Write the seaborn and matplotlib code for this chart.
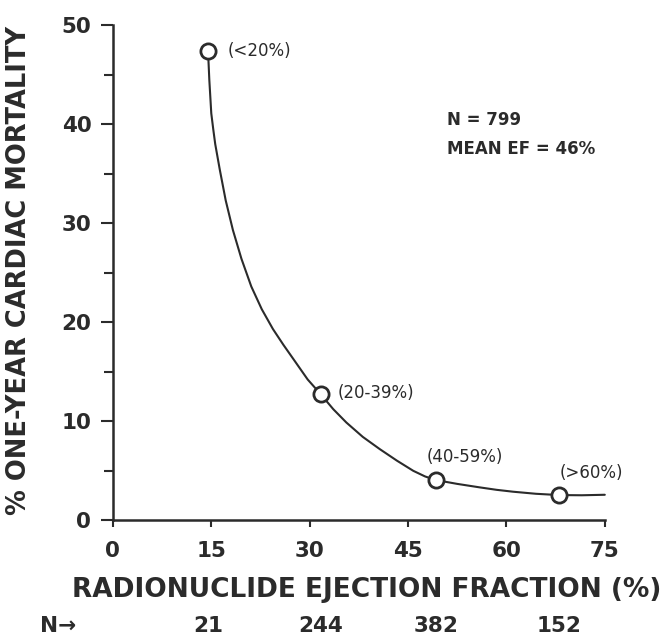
import numpy as np
import pandas as pd
import matplotlib
matplotlib.use("Agg")
import matplotlib.pyplot as plt
import seaborn as sns

# measured groups (ejection fraction, one-year cardiac mortality)
point_ef = [14.5, 31.7, 49.3, 68.0]
point_mort = [47.4, 12.7, 4.0, 2.5]
point_labels = ["(<20%)", "(20-39%)", "(40-59%)", "(>60%)"]

# fitted curve
curve_ef = [14.5, 14.6, 14.7, 14.85, 15.0, 15.3, 15.6, 16.3, 17.2, 18.3, 19.6,
            21.1, 22.7, 24.4, 26.0, 27.8, 29.7, 31.7, 33.6, 35.6, 38.1, 40.7,
            43.3, 45.8, 47.6, 49.3, 52.5, 55.9, 58.5, 61.0, 64.5, 68.0, 71.5,
            75.0]
curve_mort = [47.4, 46.0, 44.5, 42.8, 41.1, 39.5, 38.0, 35.4, 32.3, 29.3, 26.4,
              23.6, 21.3, 19.3, 17.7, 16.0, 14.2, 12.7, 11.2, 9.85, 8.4, 7.16,
              6.0, 4.97, 4.4, 4.03, 3.65, 3.3, 3.05, 2.86, 2.65, 2.52, 2.5,
              2.55]

# patients per group, printed under the x axis below each group
n_counts = ["21", "244", "382", "152"]

x_ticks = [0, 15, 30, 45, 60, 75]
y_ticks = [0, 10, 20, 30, 40, 50]

ink = "#2b2b2b"

sns.set_theme(style="ticks")
plt.rcParams["font.family"] = ["DejaVu Sans"]

fig = plt.figure(figsize=(6.72, 6.4), dpi=100)
ax = fig.add_axes([0.168, 0.1875, 0.732, 0.773])

curve = pd.DataFrame({"ef": curve_ef, "mort": curve_mort})
pts = pd.DataFrame({"ef": point_ef, "mort": point_mort})

sns.lineplot(data=curve, x="ef", y="mort", ax=ax, color=ink, lw=1.5,
             sort=False, estimator=None, clip_on=False)
sns.scatterplot(data=pts, x="ef", y="mort", ax=ax, s=120, marker="o",
                facecolor="white", edgecolor=ink, linewidth=2, zorder=5,
                clip_on=False)

label_offsets = [(14, 0), (12, 1), (-7, 17), (0.5, 16)]
for x, y, t, off in zip(point_ef, point_mort, point_labels, label_offsets):
    ax.annotate(t, (x, y), xytext=off, textcoords="offset points",
                fontsize=12, color=ink, va="center", ha="left")

ax.text(0.679, 0.808, "N = 799", transform=ax.transAxes, fontsize=12,
        fontweight="bold", color=ink, va="center")
ax.text(0.679, 0.749, "MEAN EF = 46%", transform=ax.transAxes, fontsize=12,
        fontweight="bold", color=ink, va="center")

ax.set_xlim(0, 75)
ax.set_ylim(0, 50)
ax.set_xticks(x_ticks)
ax.set_yticks(y_ticks)
ax.set_yticks([5, 15, 25, 35, 45], minor=True)
ax.tick_params(axis="both", which="major", labelsize=15.5, colors=ink,
               width=1.5)
ax.tick_params(axis="x", which="major", length=5, pad=10)
ax.tick_params(axis="y", which="major", length=8.5, pad=7)
ax.tick_params(axis="y", which="minor", width=1.5, length=6.5, colors=ink)
for lab in ax.get_xticklabels() + ax.get_yticklabels():
    lab.set_fontweight("bold")

sns.despine(ax=ax)
for side in ["left", "bottom"]:
    ax.spines[side].set_linewidth(1.8)
    ax.spines[side].set_color(ink)

ax.set_xlabel("RADIONUCLIDE EJECTION FRACTION (%)", fontsize=19,
              fontweight="bold", color=ink)
ax.xaxis.set_label_coords(0.516, -0.115)
ax.set_ylabel("% ONE-YEAR CARDIAC MORTALITY", fontsize=18.5,
              fontweight="bold", color=ink)
ax.yaxis.set_label_coords(-0.165, 0.505)

ax.text(-0.148, -0.214, "N\u2192", transform=ax.transAxes, fontsize=15.5,
        fontweight="bold", color=ink, va="center", ha="left")
for xp, n in zip(point_ef, n_counts):
    ax.text(xp, -0.214, n, transform=ax.get_xaxis_transform(), fontsize=15.5,
            fontweight="bold", color=ink, va="center", ha="center")

fig.savefig("out.png", dpi=100, facecolor="white")
